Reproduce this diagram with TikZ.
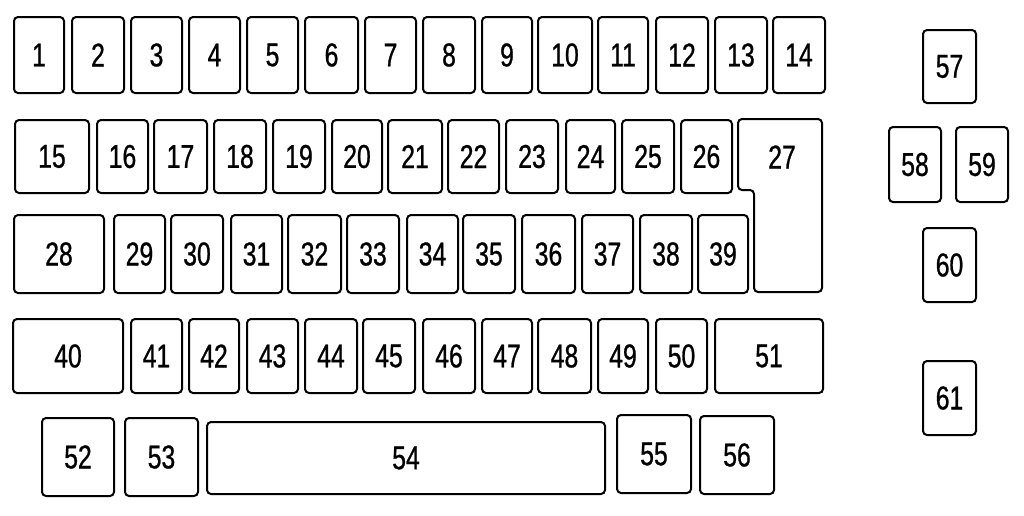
\documentclass[tikz,border=0pt]{standalone}
\usepackage{fontspec}
\setmainfont{Liberation Sans}[FakeStretch=0.75,FakeBold=0.8]
\begin{document}
\begin{tikzpicture}[x=1pt,y=-1pt,
  fusebox/.style={draw=black, line width=2pt, rounded corners=4pt, inner sep=0pt,
     font=\fontsize{33}{33}\selectfont},
  fuselabel/.style={inner sep=0pt, font=\fontsize{33}{33}\selectfont}]
\useasboundingbox (0,0) rectangle (1024,515);
\newcommand\fuse[5]{\node[fusebox, minimum width={#3-#1}, minimum height={#4-#2}] (f#5) at ({(#1+#3)/2},{(#2+#4)/2}) {#5};}
% row 1
\fuse{14}{17}{64}{93}{1}
\fuse{72}{17}{124}{93}{2}
\fuse{131}{17}{182}{93}{3}
\fuse{189}{17}{240}{93}{4}
\fuse{247}{17}{298}{93}{5}
\fuse{305}{17}{358}{93}{6}
\fuse{365}{17}{416}{93}{7}
\fuse{423}{17}{475}{93}{8}
\fuse{482}{17}{532}{93}{9}
\fuse{538}{17}{592}{93}{10}
\fuse{598}{17}{648}{93}{11}
\fuse{656}{17}{708}{93}{12}
\fuse{715}{17}{767}{93}{13}
\fuse{773}{17}{825}{93}{14}
% row 2
\fuse{15}{120}{89}{193}{15}
\fuse{97}{120}{148}{193}{16}
\fuse{154}{120}{207}{193}{17}
\fuse{214}{120}{266}{193}{18}
\fuse{273}{120}{325}{193}{19}
\fuse{332}{120}{382}{193}{20}
\fuse{388}{120}{442}{193}{21}
\fuse{448}{120}{499}{193}{22}
\fuse{506}{120}{558}{193}{23}
\fuse{566}{120}{615}{193}{24}
\fuse{622}{120}{674}{193}{25}
\fuse{681}{120}{732}{193}{26}
% fuse 27 (L shape)
\draw[line width=2pt, rounded corners=4pt] (738,119) -- (822,119) -- (822,292) -- (754,292) -- (754,190) -- (738,190) -- cycle;
\node[fuselabel] (f27) at (782,157) {27};
% row 3
\fuse{14}{215}{104}{293}{28}
\fuse{114}{215}{165}{293}{29}
\fuse{171}{215}{223}{293}{30}
\fuse{231}{215}{282}{293}{31}
\fuse{288}{215}{341}{293}{32}
\fuse{347}{215}{399}{293}{33}
\fuse{407}{215}{458}{293}{34}
\fuse{463}{215}{515}{293}{35}
\fuse{522}{215}{575}{293}{36}
\fuse{582}{215}{633}{293}{37}
\fuse{640}{215}{692}{293}{38}
\fuse{698}{215}{748}{293}{39}
% row 4
\fuse{13}{319}{123}{393}{40}
\fuse{131}{319}{182}{393}{41}
\fuse{189}{319}{239}{393}{42}
\fuse{247}{319}{298}{393}{43}
\fuse{305}{319}{357}{393}{44}
\fuse{363}{319}{415}{393}{45}
\fuse{423}{319}{475}{393}{46}
\fuse{482}{319}{532}{393}{47}
\fuse{538}{319}{591}{393}{48}
\fuse{598}{319}{648}{393}{49}
\fuse{656}{319}{707}{393}{50}
\fuse{715}{319}{823}{393}{51}
% row 5
\fuse{42}{418}{114}{496}{52}
\fuse{125}{418}{198}{496}{53}
\fuse{207}{422}{605}{494}{54}
\fuse{617}{415}{691}{493}{55}
\fuse{700}{416}{774}{494}{56}
% right column
\fuse{923}{30}{976}{103}{57}
\fuse{889}{127}{941}{202}{58}
\fuse{956}{127}{1008}{202}{59}
\fuse{923}{228}{976}{302}{60}
\fuse{923}{361}{976}{435}{61}
\end{tikzpicture}
\end{document}
